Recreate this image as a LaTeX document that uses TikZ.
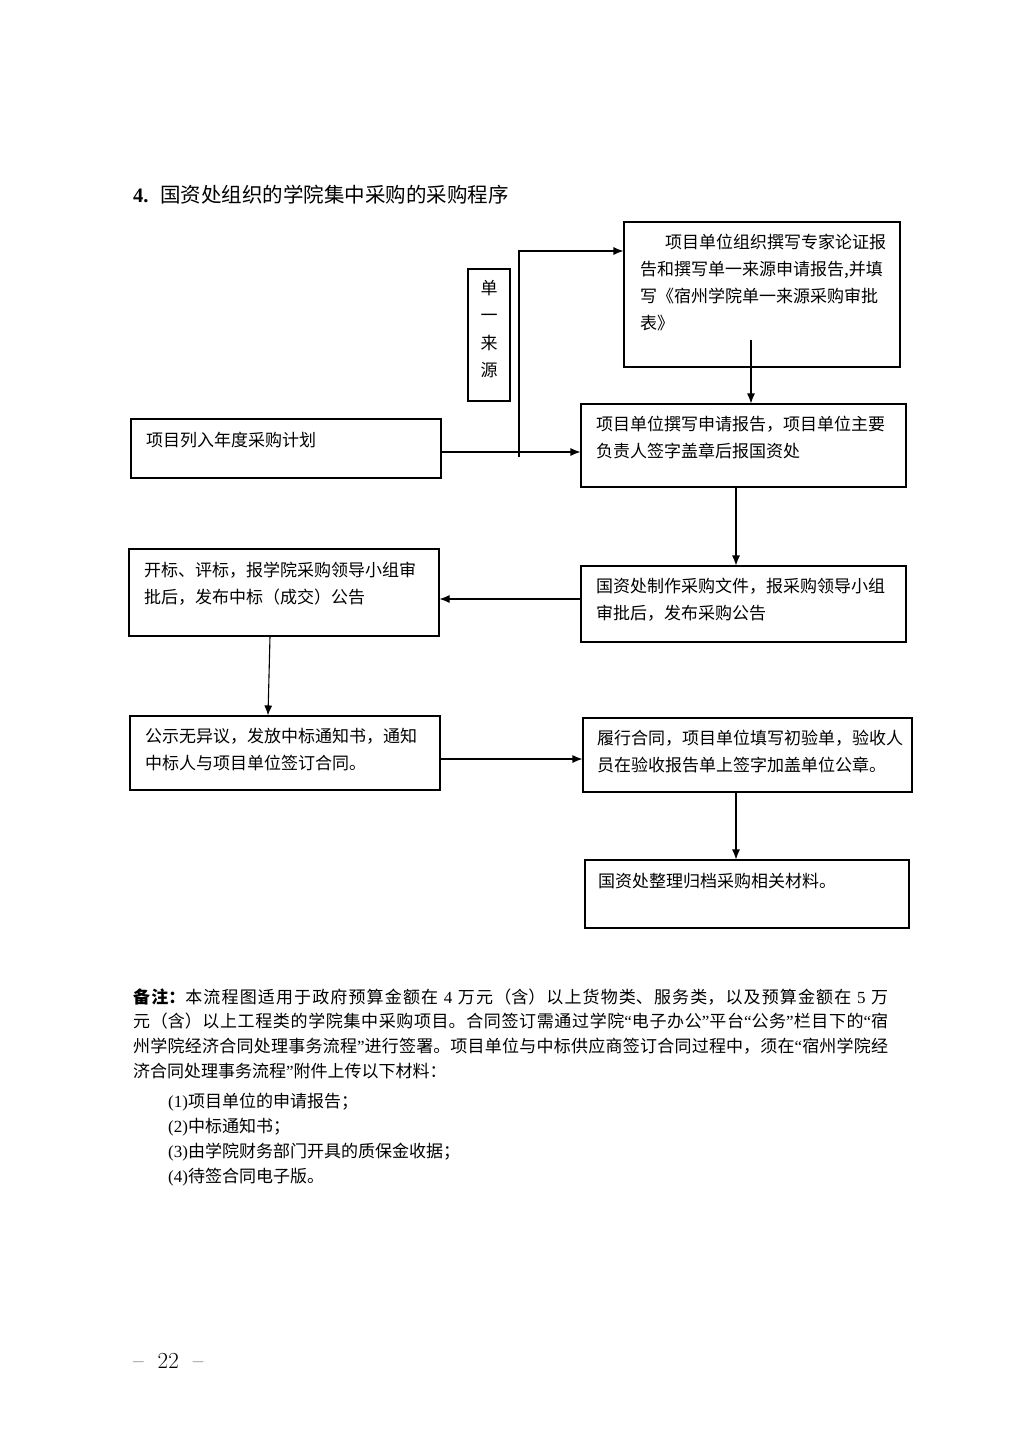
\documentclass[tikz,border=0pt]{standalone}
\usepackage{fontspec}
\usetikzlibrary{arrows.meta}
\newfontfamily\cjk{Noto Sans CJK SC}
\newfontfamily\tnr{Liberation Serif}
\XeTeXlinebreaklocale "zh"
\XeTeXlinebreakskip=0pt plus 3pt
\newcommand\jfy[1]{\parfillskip=0pt\relax\leftskip=0pt\relax\rightskip=0pt\relax #1\par}
\begin{document}
\begin{tikzpicture}[x=1pt,y=-1pt,
  bx/.style={draw, line width=1.1pt, inner sep=0pt},
  arr/.style={line width=1.1pt, -{Latex[length=10pt,width=8pt]}},
  btxt/.style={anchor=base west, inner sep=0pt, text width=330pt, align=left, font=\cjk\fontsize{17}{27.3}\selectfont},
  note/.style={anchor=base west, inner sep=0pt, font=\cjk\fontsize{17}{24.7}\selectfont},
  jline/.style={note, text width=755pt}
]
\fill[white] (0,0) rectangle (1024,1448);
\useasboundingbox (0,0) rectangle (1024,1448);

% title
\node[anchor=base west, inner sep=0pt, font=\tnr\bfseries\fontsize{20.5}{24}\selectfont] (t4) at (133,202) {4.};
\node[anchor=base west, inner sep=0pt, font=\cjk\fontsize{20.5}{24}\selectfont] (title) at (160,202) {国资处组织的学院集中采购的采购程序};

% boxes
\node[bx, minimum width=276pt, minimum height=145pt] (A) at (762,294.5) {};
\node[bx, minimum width=42pt, minimum height=132pt] (S) at (489,335) {};
\node[bx, minimum width=310pt, minimum height=59pt] (B) at (286,448.5) {};
\node[bx, minimum width=325pt, minimum height=83pt] (C) at (743.5,445.5) {};
\node[bx, minimum width=325pt, minimum height=76pt] (D) at (743.5,604) {};
\node[bx, minimum width=310pt, minimum height=87pt] (E) at (284,592.5) {};
\node[bx, minimum width=310pt, minimum height=74pt] (F) at (285,753) {};
\node[bx, minimum width=329pt, minimum height=74pt] (G) at (747.5,755) {};
\node[bx, minimum width=324pt, minimum height=68pt] (H) at (747,894) {};

% box texts
\node[btxt] (At1) at (665,248) {项目单位组织撰写专家论证报};
\node[btxt] (At2) at (640,275) {告和撰写单一来源申请报告,并填\\写《宿州学院单一来源采购审批\\表》};
\node[inner sep=0pt, align=center, font=\cjk\fontsize{17}{27.3}\selectfont] (St) at (489,329) {单\\一\\来\\源};
\node[btxt] (Bt) at (146,446) {项目列入年度采购计划};
\node[btxt] (Ct) at (596,430) {项目单位撰写申请报告，项目单位主要\\负责人签字盖章后报国资处};
\node[btxt] (Dt) at (596,592) {国资处制作采购文件，报采购领导小组\\审批后，发布采购公告};
\node[btxt] (Et) at (144,576) {开标、评标，报学院采购领导小组审\\批后，发布中标（成交）公告};
\node[btxt] (Ft) at (145,742) {公示无异议，发放中标通知书，通知\\中标人与项目单位签订合同。};
\node[btxt] (Gt) at (597,744) {履行合同，项目单位填写初验单，验收人\\员在验收报告单上签字加盖单位公章。};
\node[btxt] (Ht) at (598,887) {国资处整理归档采购相关材料。};

% connector helper coordinates
\coordinate (s0) at (519,457);
\coordinate (s1) at (519,251);
\coordinate (yBC) at (0,452);
\coordinate (a1) at (751,340);
\coordinate (xCD) at (736,0);
\coordinate (yDE) at (0,599);
\coordinate (xEF) at (270,0);
\coordinate (yFG) at (0,759);
\coordinate (xGH) at (736,0);

% connectors
\draw[arr] (s0) -- (s1) -- (A.west |- s1);
\draw[arr] (B.east |- yBC) -- (C.west |- yBC);
\draw[arr] (a1) -- (C.north -| a1);
\draw[arr] (C.south -| xCD) -- (D.north -| xCD);
\draw[arr] (D.west |- yDE) -- (E.east |- yDE);
\draw[arr] (E.south -| xEF) -- ([xshift=-2pt]F.north -| xEF);
\draw[arr] (F.east |- yFG) -- (G.west |- yFG);
\draw[arr] (G.south -| xGH) -- (H.north -| xGH);

% notes
\node[jline] (n1) at (133,1003) {\jfy{{\bfseries 备注：}本流程图适用于政府预算金额在{\tnr{} 4 }万元（含）以上货物类、服务类，以及预算金额在{\tnr{} 5 }万}};
\node[jline] (n2) at (133,1027.7) {\jfy{元（含）以上工程类的学院集中采购项目。合同签订需通过学院{\tnr “}电子办公{\tnr ”}平台{\tnr “}公务{\tnr ”}栏目下的{\tnr “}宿}};
\node[jline] (n3) at (133,1052.4) {\jfy{州学院经济合同处理事务流程{\tnr ”}进行签署。项目单位与中标供应商签订合同过程中，须在{\tnr “}宿州学院经}};
\node[note] (n4) at (133,1077) {济合同处理事务流程{\tnr ”}附件上传以下材料：};
\node[note] (i1) at (168,1107) {{\tnr (1)}项目单位的申请报告；};
\node[note] (i2) at (168,1132) {{\tnr (2)}中标通知书；};
\node[note] (i3) at (168,1157) {{\tnr (3)}由学院财务部门开具的质保金收据；};
\node[note] (i4) at (168,1182) {{\tnr (4)}待签合同电子版。};

% page number
\node[anchor=base west, inner sep=0pt, font=\fontsize{23}{23}\selectfont] (pg) at (133,1368) {–\hspace{14pt}22\hspace{14pt}–};
\end{tikzpicture}
\end{document}
